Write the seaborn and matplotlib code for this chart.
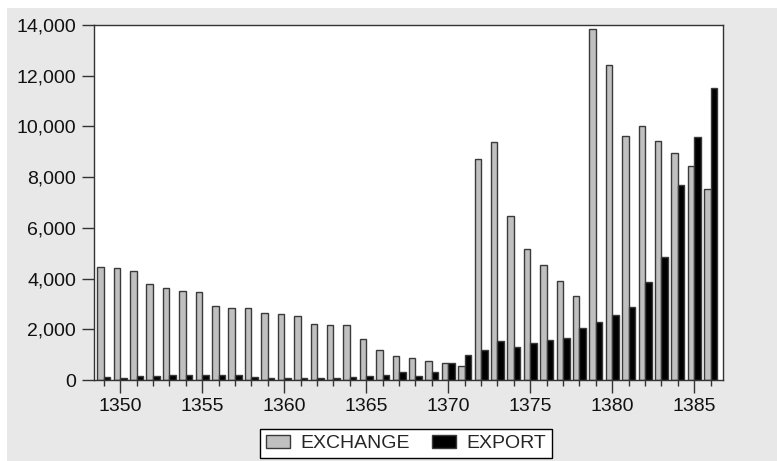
import matplotlib
matplotlib.use("Agg")
import matplotlib.pyplot as plt
import matplotlib.ticker as mticker
from matplotlib.patches import Rectangle
import seaborn as sns
import pandas as pd

sns.set_style("ticks")
plt.rcParams["font.family"] = ["Liberation Sans", "DejaVu Sans"]

years = list(range(1349, 1387))
exchange = [4440, 4430, 4310, 3800, 3640, 3505, 3467, 2904, 2825, 2820,
            2640, 2600, 2522, 2222, 2183, 2180, 1631, 1198, 946, 867,
            764, 686, 567, 8700, 9400, 6450, 5161, 4531, 3889, 3325,
            13850, 12411, 9641, 10023, 9432, 8959, 8459, 7514]
export = [100, 92, 145, 145, 184, 184, 184, 184, 184, 105,
          66, 66, 66, 66, 66, 105, 145, 200, 300, 170,
          300, 686, 985, 1198, 1552, 1300, 1458, 1591, 1643, 2064,
          2273, 2576, 2876, 3861, 4834, 7699, 9574, 11521]
series = ["EXCHANGE", "EXPORT"]
colors = {"EXCHANGE": "#c0c0c0", "EXPORT": "#000000"}

df = pd.DataFrame({
    "year": years * 2,
    "series": [series[0]] * len(years) + [series[1]] * len(years),
    "value": exchange + export,
})

fig = plt.figure(figsize=(7.77, 4.61), dpi=100, facecolor="white")
# grey panel behind the chart (white strip on the top and left edge)
fig.patches.append(Rectangle((7 / 777, 0), 1, (461 - 8) / 461, transform=fig.transFigure,
                             facecolor="#e8e8e8", edgecolor="none", zorder=-10))
ax = fig.add_axes([94 / 777, 81 / 461, 629 / 777, 355 / 461])

sns.barplot(data=df, x="year", y="value", hue="series", palette=colors,
            native_scale=True, width=0.8, edgecolor="#3a3a3a", linewidth=1,
            saturation=1, ax=ax)

ax.set_xlim(1348.4, 1386.75)
ax.set_ylim(0, 14000)
ax.set_xticks(range(1350, 1386, 5))
ax.set_xticks(years, minor=True)
ax.set_yticks(range(0, 14001, 2000))
ax.yaxis.set_major_formatter(mticker.StrMethodFormatter("{x:,.0f}"))
ax.tick_params(axis="both", which="major", length=9, width=1, color="#333333",
               labelsize=14, labelcolor="#111111", direction="out", pad=4)
ax.tick_params(axis="x", which="minor", length=4, width=1, color="#333333", direction="out")
ax.set_xlabel("")
ax.set_ylabel("")
for sp in ax.spines.values():
    sp.set_visible(True)
    sp.set_color("#333333")
    sp.set_linewidth(1)

handles, labels = ax.get_legend_handles_labels()
ax.get_legend().remove()
fig.legend(handles, labels, loc="upper center", bbox_to_anchor=(406 / 777, 32 / 461),
           ncol=2, frameon=True, fancybox=False, edgecolor="black", framealpha=1,
           fontsize=14, handlelength=1.25, handleheight=0.7, handletextpad=0.55,
           columnspacing=1.1, borderpad=0.3, borderaxespad=0)

fig.savefig("out.png", dpi=100, facecolor=fig.get_facecolor())
